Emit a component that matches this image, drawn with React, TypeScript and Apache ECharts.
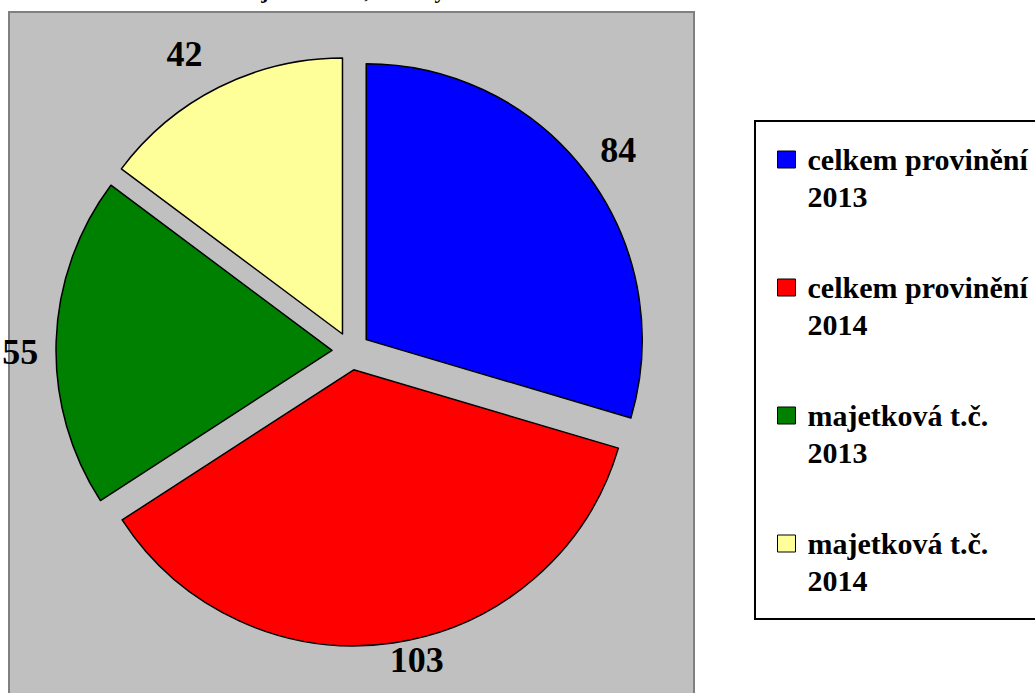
import React, { useEffect, useRef } from "react";
import * as echarts from "echarts";

const categories = [
  "celkem provinění\n2013",
  "celkem provinění\n2014",
  "majetková t.č.\n2013",
  "majetková t.č.\n2014",
];
const values = [84, 103, 55, 42];
const colors = ["#0000ff", "#ff0000", "#008000", "#ffff99"];
const titleText = "Celková a majetková t.č., za roky 2013 a 2014";
// label nudges (style only), per slice
const labelNudge = [
  [-12, -9],
  [-12, -8],
  [12, 12],
  [0, -11],
];

export default function App() {
  const ref = useRef<HTMLDivElement>(null);
  useEffect(() => {
    if (!ref.current) return;
    const chart = echarts.init(ref.current, null, { renderer: "svg" });
    const font = "'Liberation Serif', 'Times New Roman', serif";
    chart.setOption({
      animation: false,
      backgroundColor: "#ffffff",
      title: {
        text: titleText,
        left: 133,
        top: -21,
        padding: 0,
        textStyle: { fontFamily: font, fontSize: 22, fontWeight: "bold", color: "#000" },
      },
      graphic: [
        {
          type: "rect",
          z: -10,
          shape: { x: 9, y: 12, width: 685, height: 720 },
          style: { fill: "#c0c0c0", stroke: "#808080", lineWidth: 2 },
          silent: true,
        },
        {
          type: "rect",
          z: -10,
          shape: { x: 755, y: 121, width: 400, height: 498 },
          style: { fill: "#ffffff", stroke: "#000000", lineWidth: 2 },
          silent: true,
        },
      ],
      legend: {
        orient: "vertical",
        left: 777,
        top: 104,
        padding: 0,
        itemWidth: 18,
        itemHeight: 17,
        itemGap: 17,
        selectedMode: false,
        icon: "rect",
        data: categories,
        formatter: (name: string) => "\n" + name,
        itemStyle: { borderColor: "#000", borderWidth: 1 },
        textStyle: {
          fontFamily: font,
          fontSize: 30,
          fontWeight: "bold",
          color: "#000",
          lineHeight: 37,
          padding: [0, 0, 0, 7],
        },
      },
      series: [
        {
          type: "pie",
          center: [351, 351],
          radius: 276,
          startAngle: 90,
          clockwise: true,
          selectedMode: "multiple",
          selectedOffset: 19,
          avoidLabelOverlap: false,
          emphasis: { disabled: true },
          itemStyle: { borderColor: "#000", borderWidth: 1.5 },
          select: { itemStyle: { borderColor: "#000", borderWidth: 1.5 } },
          label: {
            show: true,
            position: "outside",
            formatter: "{c}",
            fontFamily: font,
            fontSize: 36,
            fontWeight: "bold",
            color: "#000",
          },
          labelLine: { show: false, length: 25, length2: 0 },
          labelLayout: (p: any) => ({
            dx: labelNudge[p.dataIndex][0],
            dy: labelNudge[p.dataIndex][1],
          }),
          data: categories.map((name, i) => ({
            name,
            value: values[i],
            selected: true,
            itemStyle: { color: colors[i] },
          })),
        },
      ],
    });
    return () => chart.dispose();
  }, []);
  return (
    <div
      ref={ref}
      style={{ position: "absolute", left: 0, top: 0, width: 1035, height: 693 }}
    />
  );
}
